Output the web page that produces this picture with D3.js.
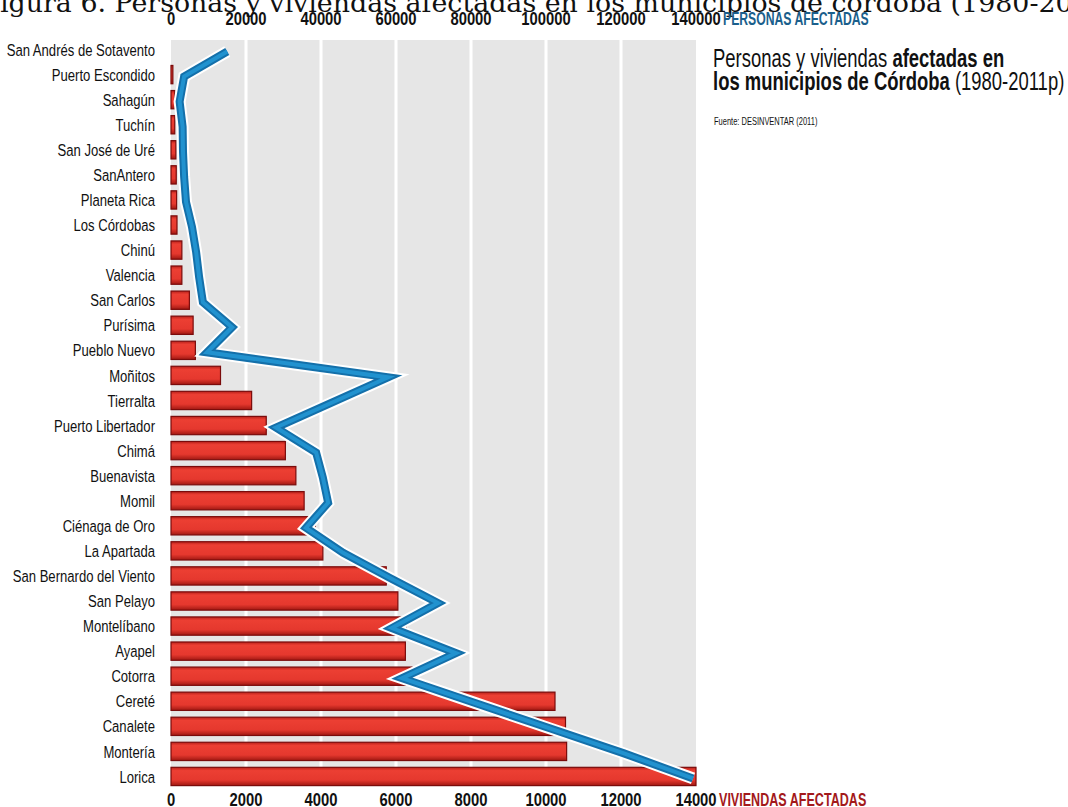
<!DOCTYPE html>
<html>
<head>
<meta charset="utf-8">
<script src="https://cdn.jsdelivr.net/npm/d3@7"></script>
<style>
  body { margin: 0; background: #fff; }
  svg { display: block; }
  .cond { font-family: "Liberation Sans", Arial, sans-serif; }
</style>
</head>
<body>
<svg id="chart" width="1068" height="807"></svg>
<script>
// municipios, top to bottom
const municipios = ["San Andrés de Sotavento", "Puerto Escondido", "Sahagún", "Tuchín", "San José de Uré",
  "SanAntero", "Planeta Rica", "Los Córdobas", "Chinú", "Valencia", "San Carlos", "Purísima", "Pueblo Nuevo",
  "Moñitos", "Tierralta", "Puerto Libertador", "Chimá", "Buenavista", "Momil", "Ciénaga de Oro", "La Apartada",
  "San Bernardo del Viento", "San Pelayo", "Montelíbano", "Ayapel", "Cotorra", "Cereté", "Canalete", "Montería", "Lorica"];

// viviendas afectadas (bars)
const viviendas = [0, 50, 100, 100, 130, 140, 150, 160, 290, 290, 490, 590, 650, 1320, 2150, 2540, 3050, 3330,
  3550, 3850, 4050, 5740, 6050, 6270, 6250, 6430, 10240, 10520, 10550, 14000];

// personas afectadas (line)
const personas = [15000, 3500, 2300, 3100, 3200, 3500, 4000, 5600, 6700, 7500, 8500, 16300, 9600, 57900, 43000,
  28000, 38700, 40500, 41900, 36000, 45900, 58400, 71200, 58900, 76000, 61600, 81300, 101000, 120800, 139200];

const viviendaTicks = [0, 2000, 4000, 6000, 8000, 10000, 12000, 14000];
const personaTicks = [0, 20000, 40000, 60000, 80000, 100000, 120000, 140000];

const titulo = "Figura 6. Personas y viviendas afectadas en los municipios de córdoba (1980-2011p)";

const svg = d3.select("#chart");

// scales
var xViv = d3.scaleLinear().domain([0, 14000]).range([171, 696]),
    xPer = d3.scaleLinear().domain([0, 140000]).range([171, 696]),
    y = d3.scaleBand().domain(municipios).range([37, 789]).paddingInner(0.27).paddingOuter(0.135);

// bar gradient
var defs = svg.append("defs");
var grad = defs.append("linearGradient").attr("id", "barGrad")
    .attr("x1", 0).attr("y1", 0).attr("x2", 0).attr("y2", 1);
grad.append("stop").attr("offset", "0%").attr("stop-color", "#b9211b");
grad.append("stop").attr("offset", "18%").attr("stop-color", "#ec3f33");
grad.append("stop").attr("offset", "70%").attr("stop-color", "#e5382e");
grad.append("stop").attr("offset", "100%").attr("stop-color", "#a01812");

// page title (cut by the photo)
var title = svg.append("text")
    .attr("font-family", "'DejaVu Serif', 'Liberation Serif', serif")
    .attr("font-size", 26)
    .attr("y", 12)
    .attr("fill", "#111")
    .text(titulo);
// fit so that "igura ... (1980-2" runs from 0 to ~1056
(function fitTitle() {
  var node = title.node();
  var iStart = 1, iEnd = titulo.indexOf("(1980-2") + 7;
  var w = node.getSubStringLength(iStart, iEnd - iStart);
  title.attr("font-size", 26 * 1056 / w);
  title.attr("x", -node.getSubStringLength(0, 1));
})();

// gray panel + white gridlines
svg.append("rect")
    .attr("x", xViv(0)).attr("y", 40)
    .attr("width", xViv(14000) - xViv(0)).attr("height", 746)
    .attr("fill", "#e6e6e6");

svg.append("g").attr("class", "grid")
  .selectAll("line")
  .data(viviendaTicks.slice(1, -1))
  .enter().append("line")
    .attr("x1", d => xViv(d)).attr("x2", d => xViv(d))
    .attr("y1", 40).attr("y2", 786)
    .attr("stroke", "#fff").attr("stroke-width", 3);

// bars
svg.append("g").attr("class", "bars")
  .selectAll("rect")
  .data(municipios)
  .enter().append("rect")
    .attr("x", xViv(0))
    .attr("y", d => y(d))
    .attr("height", y.bandwidth())
    .attr("width", (d, i) => Math.max(0, xViv(viviendas[i]) - xViv(0)))
    .attr("fill", "url(#barGrad)")
    .attr("stroke", (d, i) => viviendas[i] > 0 ? "#7a0b0b" : "none")
    .attr("stroke-width", 1.2);

// line of personas
var line = d3.line()
    .x((d, i) => xPer(d))
    .y((d, i) => y(municipios[i]) + y.bandwidth() / 2 + 2);

[["#fff", 12], ["#1470aa", 8], ["#2192cf", 4]].forEach(function(s) {
  svg.append("path").datum(personas)
    .attr("d", line).attr("fill", "none")
    .attr("stroke", s[0]).attr("stroke-width", s[1])
    .attr("stroke-linejoin", "miter").attr("stroke-miterlimit", 12);
});

// squeezed text helper (mimics a condensed face)
function squeezed(sel, x, y, sx) {
  return sel.attr("transform", function(d, i) {
    var xx = typeof x === "function" ? x(d, i) : x;
    var yy = typeof y === "function" ? y(d, i) : y;
    return "translate(" + xx + "," + yy + ") scale(" + sx + ",1)";
  });
}

// category labels
squeezed(svg.append("g").attr("class", "cond")
  .selectAll("text")
  .data(municipios)
  .enter().append("text"), 155, d => y(d) + y.bandwidth() / 2, 0.77)
    .attr("dy", "0.36em")
    .attr("text-anchor", "end")
    .attr("font-size", 17)
    .attr("fill", "#111")
    .text(d => d);

// top axis (personas)
var topAxis = svg.append("g").attr("class", "cond");
squeezed(topAxis.selectAll("text")
  .data(personaTicks)
  .enter().append("text"), d => xPer(d), 25, 0.8)
    .attr("text-anchor", "middle")
    .attr("font-size", 18.5).attr("font-weight", "bold")
    .attr("fill", "#111")
    .text(d => d);
squeezed(topAxis.append("text"), 723, 25, 0.66)
    .attr("font-size", 18.5).attr("font-weight", "bold")
    .attr("fill", "#1b5f8c")
    .text("PERSONAS AFECTADAS");

// bottom axis (viviendas)
var botAxis = svg.append("g").attr("class", "cond");
squeezed(botAxis.selectAll("text")
  .data(viviendaTicks)
  .enter().append("text"), d => xViv(d), 806, 0.8)
    .attr("text-anchor", "middle")
    .attr("font-size", 18.5).attr("font-weight", "bold")
    .attr("fill", "#111")
    .text(d => d);
squeezed(botAxis.append("text"), 719, 806, 0.68)
    .attr("font-size", 18.5).attr("font-weight", "bold")
    .attr("fill", "#a3191b")
    .text("VIVIENDAS AFECTADAS");

// legend text
var leg = svg.append("g").attr("class", "cond").attr("fill", "#111");
var l1 = squeezed(leg.append("text"), 713, 67, 0.71).attr("font-size", 26);
l1.append("tspan").text("Personas y viviendas ");
l1.append("tspan").attr("font-weight", "bold").text("afectadas en");
var l2 = squeezed(leg.append("text"), 713, 90, 0.71).attr("font-size", 26);
l2.append("tspan").attr("font-weight", "bold").text("los municipios de Córdoba");
l2.append("tspan").text(" (1980-2011p)");
squeezed(leg.append("text"), 714, 125, 0.75).attr("font-size", 10)
    .text("Fuente: DESINVENTAR (2011)");
</script>
</body>
</html>
